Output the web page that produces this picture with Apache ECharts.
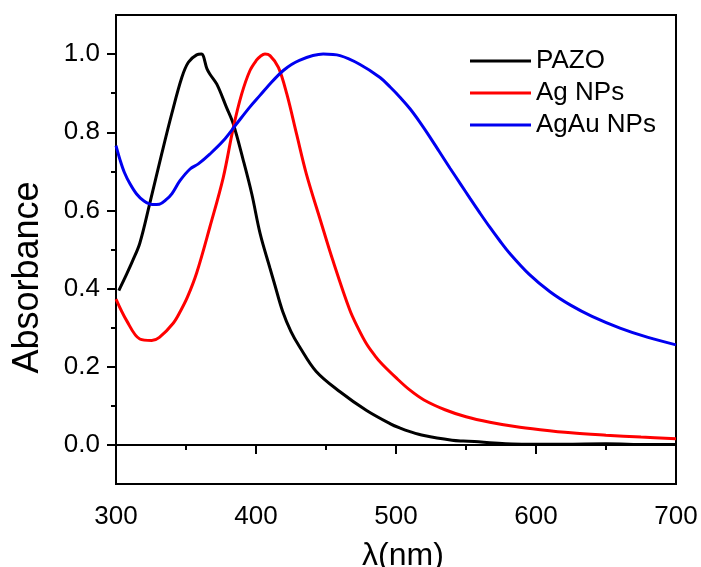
<!DOCTYPE html>
<html>
<head>
<meta charset="utf-8">
<script src="https://cdn.jsdelivr.net/npm/echarts@6/dist/echarts.min.js"></script>
<style>html,body{margin:0;padding:0;background:#fff}#c{width:701px;height:567px}</style>
</head>
<body>
<div id="c"></div>
<script>
const seriesNames = ['PAZO', 'Ag NPs', 'AgAu NPs'];
const pazoX = [302, 307.6, 312, 317, 324, 332.6, 339.8, 347, 351.7, 357.6, 361, 365, 367, 372, 379, 383.8, 391, 397, 403, 410, 413, 419, 425, 431, 443, 460, 479, 496, 503, 510, 520, 540, 548, 556, 570, 590, 620, 650, 680, 700];
const pazoY = [0.395, 0.437, 0.472, 0.516, 0.616, 0.744, 0.847, 0.94, 0.979, 0.998, 1.0, 0.962, 0.949, 0.923, 0.863, 0.821, 0.727, 0.642, 0.540, 0.452, 0.415, 0.342, 0.290, 0.252, 0.188, 0.136, 0.088, 0.054, 0.043, 0.034, 0.024, 0.012, 0.010, 0.009, 0.005, 0.002, 0.002, 0.003, 0.001, 0.001];
const agX = [300, 307.6, 317, 325.5, 331, 341, 346, 351, 357.6, 367, 376.6, 383.8, 389.8, 395.7, 400.5, 403, 406.4, 410, 416, 422, 429, 436, 446, 455, 467, 473, 479, 485, 490, 500, 510, 520, 535, 550, 567, 585, 603, 625, 650, 675, 700];
const agY = [0.373, 0.318, 0.271, 0.267, 0.275, 0.312, 0.342, 0.378, 0.44, 0.557, 0.684, 0.812, 0.898, 0.958, 0.985, 0.994, 1.0, 0.996, 0.966, 0.898, 0.795, 0.693, 0.575, 0.471, 0.345, 0.298, 0.258, 0.228, 0.207, 0.172, 0.140, 0.115, 0.090, 0.072, 0.058, 0.047, 0.039, 0.031, 0.025, 0.020, 0.016];
const agauX = [300, 303, 306, 310, 314.7, 320, 326, 331, 336, 340, 345.7, 352.9, 358.8, 367, 376.6, 386, 395.7, 403, 407.6, 419.5, 431, 448, 460, 474, 488.6, 496, 503, 510, 517, 524, 531, 538.6, 546, 553, 560, 567, 574, 581, 595, 610, 625, 640, 660, 680, 700];
const agauY = [0.766, 0.728, 0.697, 0.668, 0.642, 0.624, 0.615, 0.616, 0.628, 0.643, 0.676, 0.706, 0.719, 0.744, 0.778, 0.821, 0.865, 0.895, 0.914, 0.958, 0.984, 1.0, 0.996, 0.974, 0.94, 0.915, 0.889, 0.860, 0.826, 0.789, 0.750, 0.708, 0.668, 0.630, 0.593, 0.557, 0.523, 0.491, 0.437, 0.392, 0.357, 0.329, 0.299, 0.275, 0.256];
const majorY = [0.0, 0.2, 0.4, 0.6, 0.8, 1.0];
const minorY = [0.1, 0.3, 0.5, 0.7, 0.9];
const colors = ['#000000', '#ff0000', '#0000f0'];

const pairs = (xs, ys) => xs.map((x, i) => [x, ys[i]]);
const FONT = 'Liberation Sans, Arial, sans-serif';
const chart = echarts.init(document.getElementById('c'), null, {renderer: 'canvas'});
const lineAxis = {show: true, lineStyle: {color: '#000', width: 2}};
chart.setOption({
  animation: false,
  backgroundColor: '#fff',
  grid: {left: 116, right: 25, top: 15, bottom: 83, show: true, borderColor: '#000', borderWidth: 2, containLabel: false, outerBoundsMode: 'none'},
  legend: {
    orient: 'vertical', left: 465, top: 43, itemWidth: 61, itemHeight: 3, itemGap: 6, icon: 'rect',
    textStyle: {fontFamily: FONT, fontSize: 26, color: '#000'},
    data: seriesNames
  },
  xAxis: {
    type: 'value', min: 300, max: 700, interval: 100,
    axisLine: lineAxis,
    axisTick: {show: true, length: 9, lineStyle: {color: '#000', width: 2}},
    minorTick: {show: true, splitNumber: 2, length: 5, lineStyle: {color: '#000', width: 2}},
    splitLine: {show: false},
    axisLabel: {fontFamily: FONT, fontSize: 26, color: '#000', margin: 20},
    name: 'λ(nm)', nameLocation: 'middle', nameGap: 56,
    nameTextStyle: {fontFamily: FONT, fontSize: 32, color: '#000', padding: [0, 0, 0, 14]}
  },
  yAxis: [{
    type: 'value', min: -0.1, max: 1.1,
    axisLine: lineAxis,
    axisTick: {show: true, length: 9, customValues: majorY, lineStyle: {color: '#000', width: 2}},
    axisLabel: {customValues: majorY, formatter: v => v.toFixed(1), fontFamily: FONT, fontSize: 26, color: '#000', margin: 16},
    splitLine: {show: false},
    name: 'Absorbance', nameLocation: 'middle', nameGap: 70,
    nameTextStyle: {fontFamily: FONT, fontSize: 36, color: '#000', padding: [0, 56, 0, 0]}
  }, {
    type: 'value', min: -0.1, max: 1.1, position: 'left',
    axisLine: lineAxis,
    axisTick: {show: true, length: 5, customValues: minorY, lineStyle: {color: '#000', width: 2}},
    axisLabel: {show: false},
    splitLine: {show: false}
  }],
  series: [
    {name: seriesNames[0], type: 'line', data: pairs(pazoX, pazoY)},
    {name: seriesNames[1], type: 'line', data: pairs(agX, agY)},
    {name: seriesNames[2], type: 'line', data: pairs(agauX, agauY)}
  ].map((s, i) => Object.assign(s, {
    yAxisIndex: 0, symbol: 'none', showSymbol: false, smooth: 0.35,
    lineStyle: {color: colors[i], width: 3}, itemStyle: {color: colors[i]}
  }))
});
</script>
</body>
</html>
